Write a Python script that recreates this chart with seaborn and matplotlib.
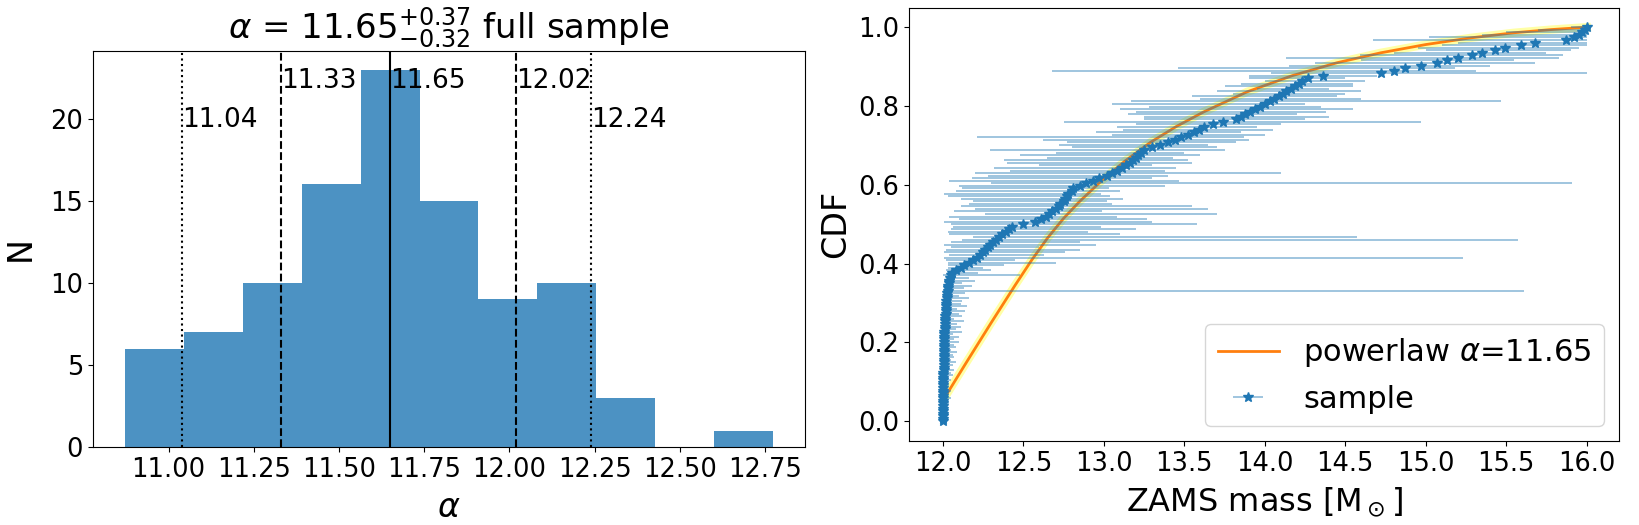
import numpy as np
import pandas as pd
import matplotlib
matplotlib.use("Agg")
import matplotlib.pyplot as plt
import seaborn as sns

# ---- left panel: histogram of fitted alpha ----
alpha_counts = [6, 7, 10, 16, 23, 15, 9, 10, 3, 0, 1]
alpha_range = (10.873, 12.772)
alpha_median = 11.65
alpha_1sig = [11.33, 12.02]
alpha_2sig = [11.04, 12.24]

# ---- right panel: sample CDF with mass ranges ----
zams_mass = [
    # CDF ~0.00-0.10
    12.000, 12.000, 12.000, 12.000, 12.000, 12.000, 12.000, 12.000, 12.000, 12.001, 12.001, 12.001, 12.001, 12.001,
    12.002, 12.002, 12.002,
    # ~0.10-0.20
    12.002, 12.003, 12.003, 12.004, 12.004, 12.004, 12.005, 12.005, 12.005, 12.006, 12.006, 12.006, 12.007, 12.007, 12.008,
    # ~0.20-0.30
    12.008, 12.009, 12.010, 12.010, 12.011, 12.012, 12.013, 12.014, 12.015, 12.016, 12.017, 12.018, 12.019, 12.020, 12.021,
    # ~0.30-0.38
    12.022, 12.024, 12.026, 12.028, 12.030, 12.032, 12.034, 12.037, 12.040, 12.044, 12.048, 12.055,
    # ~0.38-0.50
    12.08, 12.11, 12.13, 12.16, 12.19, 12.21, 12.23, 12.25, 12.26, 12.28,
    12.29, 12.31, 12.33, 12.35, 12.37, 12.39, 12.41, 12.43,
    # ~0.50-0.60
    12.50, 12.57, 12.61, 12.64, 12.66, 12.68, 12.70, 12.72, 12.73, 12.75, 12.76, 12.77, 12.78, 12.80, 12.81,
    # ~0.60-0.72
    12.85, 12.89, 12.93, 12.97, 13.02, 13.05, 13.08, 13.11, 13.14, 13.16,
    13.18, 13.20, 13.21, 13.23, 13.25, 13.30, 13.35, 13.40, 13.44,
    # ~0.72-0.87
    13.48, 13.52, 13.56, 13.59, 13.62, 13.68, 13.74, 13.82, 13.85, 13.88, 13.91,
    13.94, 13.97, 14.00, 14.03, 14.06, 14.09, 14.11, 14.13, 14.16, 14.19, 14.21, 14.23, 14.27,
    # ~0.87-1.00
    14.36, 14.72, 14.80, 14.87, 14.97, 15.07, 15.13, 15.20, 15.29, 15.35, 15.43, 15.49, 15.59, 15.68,
    15.87, 15.92, 15.95, 15.97, 15.99, 16.00,
]
mass_low = [
    11.99, 11.99, 11.99, 11.99, 11.99, 11.99, 11.99, 11.99, 11.99, 11.99, 11.99, 11.99, 11.99, 11.99,
    11.99, 11.99, 11.99,
    11.99, 11.99, 11.99, 11.99, 11.99, 11.99, 11.99, 11.99, 11.99, 11.99, 11.99, 11.99, 11.99, 11.99, 11.99,
    11.99, 11.99, 12.00, 11.99, 12.00, 11.99, 12.00, 12.00, 11.99, 12.00, 12.00, 12.01, 12.00, 12.01, 12.00,
    12.00, 12.00, 12.01, 12.00, 12.00, 12.01, 12.00, 12.02, 12.01, 12.02, 12.00, 12.03,
    12.02, 12.03, 12.03, 12.03, 12.02, 12.01, 12.04, 12.01, 12.02, 12.05,
    12.01, 12.05, 12.12, 12.19, 12.04, 12.03, 12.05, 12.06,
    12.05, 12.01, 12.10, 12.04, 12.26, 12.07, 12.20, 12.11, 12.16, 12.19, 12.11, 12.03, 12.01, 12.08, 12.12,
    12.10, 12.30, 12.04, 12.18, 12.28, 12.20, 12.42, 12.32, 12.60, 12.40,
    12.38, 12.65, 12.48, 12.70, 12.29, 12.80, 12.72, 12.77, 12.62,
    12.21, 13.05, 12.95, 13.12, 13.08, 13.20, 12.75, 13.25, 13.25, 13.15, 13.20,
    13.10, 13.28, 13.05, 13.17, 13.60, 13.55, 13.80, 13.70, 13.95, 13.75, 13.85, 14.00, 13.90,
    13.90, 14.04, 12.68, 13.46, 14.15, 14.31, 14.60, 14.13, 14.59, 14.80, 15.00, 14.95, 15.10, 15.20,
    14.67, 15.02, 15.35, 15.50, 15.70, 15.90,
]
mass_high = [
    12.02, 12.03, 12.02, 12.04, 12.03, 12.02, 12.03, 12.04, 12.03, 12.05, 12.03, 12.04, 12.05, 12.03,
    12.04, 12.03, 12.05,
    12.04, 12.06, 12.05, 12.07, 12.04, 12.06, 12.08, 12.05, 12.07, 12.06, 12.09, 12.05, 12.08, 12.07, 12.10,
    12.07, 12.10, 12.06, 12.12, 12.08, 12.11, 12.09, 12.13, 12.07, 12.12, 12.10, 12.14, 12.09, 12.15, 12.11,
    12.12, 12.16, 12.10, 12.14, 15.61, 12.13, 12.18, 12.12, 12.20, 12.16, 12.48, 12.22,
    12.30, 12.25, 12.38, 12.70, 12.45, 15.23, 12.63, 12.76, 12.85, 12.60,
    12.95, 12.85, 15.57, 14.57, 13.10, 12.90, 13.20, 12.98,
    13.58, 13.30, 13.27, 13.08, 13.70, 12.99, 13.65, 13.55, 13.05, 13.02, 13.12, 13.04, 12.98, 13.10, 13.03,
    13.38, 15.91, 13.47, 13.30, 13.40, 14.10, 13.38, 13.45, 13.30, 13.55,
    13.52, 13.43, 13.60, 13.50, 13.75, 13.70, 13.65, 13.82, 13.90,
    13.87, 14.00, 13.85, 14.05, 13.95, 14.10, 14.97, 14.25, 14.40, 14.20, 14.38,
    14.55, 14.35, 14.25, 15.47, 14.60, 14.45, 14.50, 14.60, 14.40, 14.55, 14.55, 14.62, 14.50,
    14.70, 16.00, 15.31, 15.18, 15.40, 15.68, 15.55, 15.83, 15.85, 15.75, 15.90, 15.95, 16.00, 16.00,
    16.00, 16.00, 16.00, 16.00, 16.00, 16.00,
]

# powerlaw CDF
powerlaw_mass = [12.014, 12.15, 12.3, 12.45, 12.55, 12.65, 12.75, 12.85, 12.985, 13.13,
                 13.29, 13.45, 13.62, 13.89, 14.17, 14.45, 14.72, 15.0, 15.28, 15.55,
                 15.78, 16.0]
powerlaw_cdf = [0.062, 0.152, 0.250, 0.346, 0.408, 0.465, 0.515, 0.558, 0.610, 0.660,
                0.708, 0.748, 0.785, 0.836, 0.877, 0.910, 0.935, 0.956, 0.973, 0.986,
                0.994, 1.0]

mass = np.array(zams_mass)
lo = np.array(mass_low)
hi = np.array(mass_high)
cdf = np.arange(len(mass)) / (len(mass) - 1)

fig = plt.figure(figsize=(16.39, 5.25), dpi=100)
ax1 = fig.add_axes([0.0567, 0.1486, 0.4344, 0.7549])
ax2 = fig.add_axes([0.5546, 0.160, 0.4332, 0.8257])

# --- left: histogram ---
nbins = len(alpha_counts)
bw = (alpha_range[1] - alpha_range[0]) / nbins
hist_df = pd.DataFrame({'alpha': alpha_range[0] + bw * (np.arange(nbins) + 0.5),
                        'n': alpha_counts})
sns.histplot(data=hist_df, x='alpha', weights='n', bins=nbins, binrange=alpha_range,
             color='C0', alpha=0.8, linewidth=0, ax=ax1)
ax1.axvline(alpha_median, color='k', lw=1.5)
for v in alpha_1sig:
    ax1.axvline(v, color='k', ls='--', lw=1.5)
for v in alpha_2sig:
    ax1.axvline(v, color='k', ls=':', lw=1.5)
for v in alpha_2sig:
    ax1.text(v, 19.9, f'{v:.2f}', fontsize=19, ha='left', va='center')
for v in alpha_1sig + [alpha_median]:
    ax1.text(v, 22.3, f'{v:.2f}', fontsize=19, ha='left', va='center')
ax1.set_ylim(0, 24.15)
ax1.set_xlabel(r'$\alpha$', fontsize=24, labelpad=6)
ax1.set_ylabel('N', fontsize=24, labelpad=10)
ax1.set_title(r'$\alpha$ = $11.65^{+0.37}_{-0.32}$ full sample', fontsize=24.5)
ax1.tick_params(labelsize=18.5)

# --- right: CDF ---
ax2.plot(powerlaw_mass, powerlaw_cdf, color='yellow', lw=6, alpha=0.35, zorder=2)
sns.lineplot(x=powerlaw_mass, y=powerlaw_cdf, color='C1', lw=2,
             label=r'powerlaw $\alpha$=11.65', ax=ax2, zorder=3)
ax2.errorbar(mass, cdf, xerr=[mass - lo, hi - mass], fmt='*', color='C0',
             ecolor=(0.12, 0.47, 0.71, 0.5), elinewidth=1.2, markersize=7,
             label='sample', zorder=4)
ax2.set_xlabel(r'ZAMS mass [M$_\odot$]', fontsize=23, labelpad=6)
ax2.set_ylabel('CDF', fontsize=24)
ax2.tick_params(labelsize=18.5)
ax2.set_xticks(np.arange(12, 16.01, 0.5))
ax2.legend(loc='lower right', fontsize=22)

fig.savefig('out.png', dpi=100)
